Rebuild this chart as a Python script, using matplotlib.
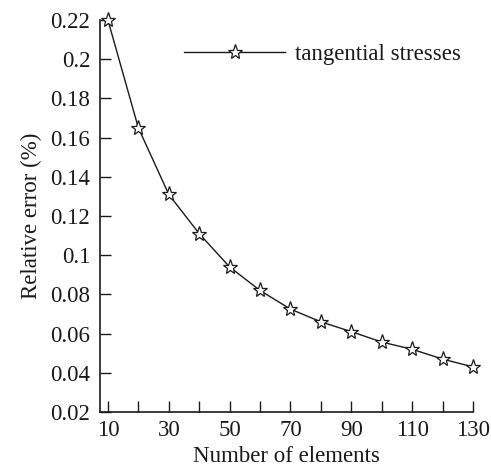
import matplotlib
matplotlib.use("Agg")
import matplotlib.pyplot as plt

plt.rcParams['font.family'] = ['Liberation Serif', 'DejaVu Serif']

elements = [10, 20, 30, 40, 50, 60, 70, 80, 90, 100, 110, 120, 130]
rel_error = [0.220, 0.165, 0.131, 0.111, 0.094, 0.082, 0.0725, 0.066, 0.061, 0.0557, 0.052, 0.047, 0.043]
xticks_major = [10, 30, 50, 70, 90, 110, 130]
yticks = [0.02, 0.04, 0.06, 0.08, 0.1, 0.12, 0.14, 0.16, 0.18, 0.2, 0.22]
ytick_labels = ['0.02', '0.04', '0.06', '0.08', '0.1', '0.12', '0.14', '0.16', '0.18', '0.2', '0.22']

FS = 16.5
fig = plt.figure(figsize=(4.91, 4.70), dpi=100)
ax = fig.add_axes([100/491, 1-412/470, (473-100)/491, (412-20)/470])

ax.plot(elements, rel_error, color='#1a1a1a', lw=1.0, marker='*', markersize=11,
        markerfacecolor='white', markeredgecolor='#1a1a1a', markeredgewidth=0.9,
        label='tangential stresses', clip_on=False, zorder=3)

ax.set_xlim(7.4, 130)
ax.set_ylim(0.02, 0.22)
ax.set_xticks(xticks_major)
ax.set_xticks(list(range(10, 131, 10)), minor=True)
ax.set_yticks(yticks)
ax.set_yticklabels(ytick_labels)

for s in ['top', 'right']:
    ax.spines[s].set_visible(False)
for s in ['left', 'bottom']:
    ax.spines[s].set_linewidth(1.2)
    ax.spines[s].set_color('#1a1a1a')

ax.tick_params(axis='both', which='both', direction='in', colors='#1a1a1a', labelsize=FS, width=1.0)
ax.tick_params(axis='x', which='major', length=8, pad=6)
ax.tick_params(axis='x', which='minor', length=8)
ax.tick_params(axis='y', which='major', length=8, pad=7)

ax.set_xlabel('Number of elements', fontsize=FS, color='#1a1a1a', labelpad=3)
ax.set_ylabel('Relative error (%)', fontsize=FS, color='#1a1a1a', labelpad=6)

leg = ax.legend(loc='center left', frameon=False, fontsize=FS, handlelength=4.4,
                handletextpad=0.45, borderpad=0, borderaxespad=0,
                bbox_to_anchor=(0.226, 0.913))
for t in leg.get_texts():
    t.set_color('#1a1a1a')

fig.savefig('out.png', dpi=100)
